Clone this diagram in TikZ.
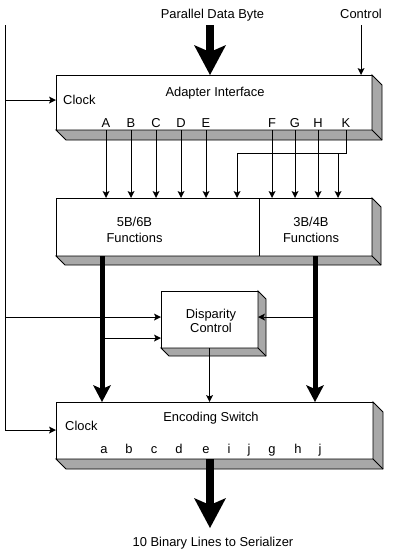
\documentclass[tikz,border=0pt]{standalone}
\usepackage{fontspec}
\setmainfont{Liberation Sans}
\usetikzlibrary{calc,arrows.meta}
\definecolor{ink}{HTML}{000000}
\definecolor{slab}{HTML}{A8A8A8}
\tikzset{
  edge/.style={draw=ink, line width=0.9pt, line join=miter},
  box/.style={draw=ink, fill=white, line width=0.9pt, inner sep=0pt, outer sep=0pt, anchor=north west},
  wire/.style={draw=ink, line width=0.9pt},
  sig/.style={wire, -{Stealth[length=7pt,width=7pt,inset=1.5pt,line width=0pt]}},
  bus/.style={draw=ink, line width=5pt, -{Stealth[length=17pt,width=18pt,inset=4pt,line width=0pt]}},
  port/.style={draw=ink, line width=8pt, -{Stealth[length=30pt,width=32pt,inset=7pt,line width=0pt]}},
  lab/.style={text=ink, font=\fontsize{12.9}{15.5}\selectfont, inner sep=1pt},
}
\newcommand{\boxslab}[3]{%
  \draw[edge, fill=slab] (#1.south west) -- ++(#3,#3) -- ($(#2.south east)+(#3,#3)$) -- ($(#2.north east)+(#3,#3)$) -- (#2.north east) -- (#2.south east) -- cycle;
  \draw[edge] (#2.south east) -- ++(#3,#3);}
\begin{document}
\begin{tikzpicture}[x=1pt,y=-1pt]
  \useasboundingbox (0,0) rectangle (410,554);
  \node[box, minimum width=316pt, minimum height=55pt] (adapter) at (56,75) {};
  \node[box, minimum width=203pt, minimum height=58pt] (func5) at (56,198) {};
  \node[box, minimum width=113pt, minimum height=58pt] (func3) at (259,198) {};
  \node[box, minimum width=97pt, minimum height=57pt] (disp) at (161,291) {};
  \node[box, minimum width=317pt, minimum height=57pt] (enc) at (56,402) {};
  \boxslab{adapter}{adapter}{10}
  \boxslab{func5}{func3}{9}
  \boxslab{disp}{disp}{8}
  \boxslab{enc}{enc}{10}
  \node[lab, anchor=base] (pdb) at (212.5,19) {Parallel Data Byte};
  \node[lab, anchor=base] (ctl) at (361,18) {Control};
  \node[lab, anchor=base] (adt) at (215,96.7) {Adapter Interface};
  \node[lab, anchor=base west] (clk1) at (62,104) {Clock};
  \foreach \l/\x in {A/106,B/131,C/156,D/181,E/206,F/272,G/295,H/318,K/346}
    \node[lab, anchor=base] (\l) at (\x,127) {\l};
  \node[lab, align=center] (f5t) at (134.5,230) {5B/6B\\Functions};
  \node[lab, align=center] (f3t) at (311,230) {3B/4B\\Functions};
  \node[lab, align=center] (dct) at (211,321) {Disparity\\[-1.3pt]Control};
  \node[lab, anchor=base] (est) at (211,421) {Encoding Switch};
  \node[lab, anchor=base west] (clk2) at (64,430) {Clock};
  \foreach \l/\x [count=\i] in {a/104,b/129,c/154,d/179,e/206,i/229,j/249,g/272,h/298,j/320}
    \node[lab, anchor=base] (o\i) at (\x,453) {\l};
  \node[lab, anchor=base] (ser) at (213,546) {10 Binary Lines to Serializer};
  \coordinate (wtop) at (5,25);
  \coordinate (wclk) at (5,100);
  \coordinate (wdsp) at (5,317);
  \coordinate (wenc) at (5,430);
  \draw[wire] (wtop) -- (wenc);
  \draw[sig] (wclk) -- (adapter.west |- wclk);
  \draw[sig] (wdsp) -- (disp.west |- wdsp);
  \draw[sig] (wenc) -- (enc.west |- wenc);
  \coordinate (pin) at (210,25);
  \coordinate (cin) at (361,25);
  \draw[port] (pin) -- (pin |- adapter.north);
  \draw[sig] (cin) -- (cin |- adapter.north);
  \foreach \l in {A,B,C,D,E}
    \draw[sig] (adapter.south -| \l) -- (func5.north -| \l);
  \foreach \l in {F,G,H}
    \draw[sig] (adapter.south -| \l) -- (func3.north -| \l);
  \coordinate (kl) at (237,153);
  \coordinate (kr) at (338,153);
  \draw[wire] (adapter.south -| K) |- (kl);
  \draw[sig] (kl) -- (kl |- func5.north);
  \draw[sig] (kr) -- (kr |- func3.north);
  \coordinate (busl) at (102,256);
  \coordinate (busr) at (315,256);
  \draw[bus] (busl) -- (busl |- enc.north);
  \draw[bus] (busr) -- (busr |- enc.north);
  \coordinate (tapl) at (102,338);
  \coordinate (tapr) at (315,317);
  \draw[sig] (tapl) -- (disp.west |- tapl);
  \draw[sig] (tapr) -- (disp.east |- tapr);
  \draw[sig] (disp.south) -- (disp.south |- enc.north);
  \coordinate (pout) at (210,459);
  \coordinate (ptip) at (210,528);
  \draw[port] (pout) -- (ptip);
\end{tikzpicture}
\end{document}
